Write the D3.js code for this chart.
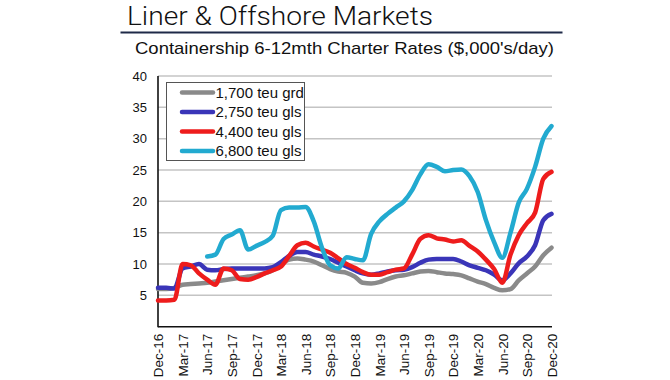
<!DOCTYPE html>
<html>
<head>
<meta charset="utf-8">
<script src="https://cdn.jsdelivr.net/npm/d3@7/dist/d3.min.js"></script>
<style>
  html, body { margin: 0; padding: 0; background: #fff; }
  svg { display: block; }
</style>
</head>
<body>
<svg id="chart" width="670" height="380"></svg>
<script>
// ---- Data (monthly, Dec-16 .. Dec-20) ----
const months = ["Dec-16","Jan-17","Feb-17","Mar-17","Apr-17","May-17","Jun-17","Jul-17","Aug-17","Sep-17","Oct-17","Nov-17",
  "Dec-17","Jan-18","Feb-18","Mar-18","Apr-18","May-18","Jun-18","Jul-18","Aug-18","Sep-18","Oct-18","Nov-18",
  "Dec-18","Jan-19","Feb-19","Mar-19","Apr-19","May-19","Jun-19","Jul-19","Aug-19","Sep-19","Oct-19","Nov-19",
  "Dec-19","Jan-20","Feb-20","Mar-20","Apr-20","May-20","Jun-20","Jul-20","Aug-20","Sep-20","Oct-20","Nov-20","Dec-20"];

const teu1700 = [6.0,6.0,6.2,6.7,6.8,6.9,7.0,7.2,7.4,7.6,7.8,8.0,
  8.2,8.5,9.0,10.0,10.7,10.9,10.7,10.4,9.8,9.2,8.8,8.6,
  8.0,7.0,6.9,7.1,7.6,8.0,8.2,8.5,8.8,8.9,8.7,8.5,
  8.4,8.2,7.7,7.2,6.8,6.2,5.8,6.0,7.4,8.5,9.6,11.4,12.6];

const teu2750 = [6.2,6.2,6.1,9.3,9.6,10.0,9.1,9.0,9.2,9.3,9.3,9.3,
  9.3,9.3,9.5,10.3,11.3,11.9,11.9,11.5,11.2,10.8,10.2,9.6,
  9.0,8.5,8.3,8.5,8.8,9.0,9.1,9.5,10.2,10.7,10.8,10.8,
  10.8,10.4,9.8,9.4,9.0,8.3,7.4,8.5,10.1,11.2,13.0,17.0,18.0];

const teu4400 = [4.2,4.2,4.3,10.0,9.8,8.5,7.5,6.7,9.3,9.0,7.6,7.5,
  7.9,8.5,9.0,9.6,11.3,13.0,13.4,12.8,12.3,11.8,10.9,10.0,
  9.4,8.7,8.3,8.3,8.7,9.1,9.3,11.5,14.0,14.6,14.1,13.9,
  13.6,13.8,12.9,12.0,10.7,9.2,7.0,11.5,14.6,16.5,18.2,23.6,24.7];

const teu6800 = [null,null,null,null,null,null,11.2,11.5,14.0,14.7,15.4,12.3,
  12.9,13.5,14.5,18.6,19.0,19.0,19.1,16.8,12.6,9.8,9.3,11.1,
  10.8,10.6,14.8,16.8,18.0,19.0,20.0,21.8,24.3,25.9,25.5,24.8,
  25.0,25.1,24.0,21.5,17.0,13.5,11.0,15.0,19.8,22.0,25.5,30.0,32.0];

const seriesNames = ["1,700 teu grd","2,750 teu gls","4,400 teu gls","6,800 teu gls"];
const seriesColors = ["#8a8a8a","#3a35b8","#ee1c1c","#22aad0"];
const seriesData = [teu1700, teu2750, teu4400, teu6800];

const yTicks = [5,10,15,20,25,30,35,40];
const xTickLabels = ["Dec-16","Mar-17","Jun-17","Sep-17","Dec-17","Mar-18","Jun-18","Sep-18","Dec-18",
  "Mar-19","Jun-19","Sep-19","Dec-19","Mar-20","Jun-20","Sep-20","Dec-20"];

const titleText = "Liner & Offshore Markets";
const subtitleText = "Containership 6-12mth Charter Rates ($,000's/day)";

// ---- Layout ----
const svg = d3.select("#chart");
const plot = { left: 158, right: 551.5, top: 76, bottom: 326.7 };

const x = d3.scalePoint().domain(months).range([plot.left, plot.right]);
const y = d3.scaleLinear().domain([0, 40]).range([plot.bottom, plot.top]);

// Title
svg.append("text")
  .attr("x", 127).attr("y", 24.5)
  .attr("font-family", "Roboto, 'Liberation Sans', Arial, sans-serif")
  .attr("font-weight", 300)
  .attr("font-size", 26)
  .attr("fill", "#111")
  .attr("textLength", 306).attr("lengthAdjust", "spacingAndGlyphs")
  .text(titleText);

svg.append("line")
  .attr("x1", 120.5).attr("x2", 562.5).attr("y1", 32.5).attr("y2", 32.5)
  .attr("stroke", "#1f2a48").attr("stroke-width", 2);

svg.append("text")
  .attr("x", 135).attr("y", 54)
  .attr("font-family", "'Liberation Sans', Arial, Helvetica, sans-serif")
  .attr("font-size", 17)
  .attr("fill", "#111")
  .attr("textLength", 419).attr("lengthAdjust", "spacingAndGlyphs")
  .text(subtitleText);

// Grid
svg.append("g")
  .selectAll("line")
  .data(yTicks)
  .join("line")
  .attr("x1", plot.left).attr("x2", plot.right + 0.5)
  .attr("y1", d => y(d)).attr("y2", d => y(d))
  .attr("stroke", "#c4c4c4").attr("stroke-width", 1.5);

// Y axis
const yAxis = d3.axisLeft(y).tickValues(yTicks).tickSize(0).tickPadding(11);
const gy = svg.append("g").attr("transform", `translate(${plot.left},0)`).call(yAxis);
gy.select(".domain").remove();
gy.selectAll("text")
  .attr("font-family", "'Liberation Sans', Arial, sans-serif")
  .attr("font-size", 13).attr("fill", "#111");

svg.append("line")
  .attr("x1", plot.left).attr("x2", plot.left)
  .attr("y1", plot.top).attr("y2", plot.bottom + 0.5)
  .attr("stroke", "#111").attr("stroke-width", 1.6);

// X axis
const xAxis = d3.axisBottom(x).tickValues(xTickLabels).tickSize(0).tickPadding(0);
const gx = svg.append("g").attr("transform", `translate(0,${plot.bottom})`).call(xAxis);
gx.select(".domain").remove();
gx.selectAll("text")
  .attr("font-family", "'Liberation Sans', Arial, sans-serif")
  .attr("font-size", 13.5).attr("fill", "#111")
  .attr("transform", "rotate(-90)")
  .attr("text-anchor", "end")
  .attr("x", -7).attr("y", 0).attr("dy", "0.35em");

svg.append("line")
  .attr("x1", plot.left).attr("x2", plot.right + 0.5)
  .attr("y1", plot.bottom).attr("y2", plot.bottom)
  .attr("stroke", "#111").attr("stroke-width", 1.6);

// Lines
const line = d3.line()
  .defined(d => d != null)
  .x((d, i) => x(months[i]))
  .y(d => y(d))
  .curve(d3.curveMonotoneX);

svg.append("g")
  .selectAll("path")
  .data(seriesData)
  .join("path")
  .attr("d", d => line(d))
  .attr("fill", "none")
  .attr("stroke", (d, i) => seriesColors[i])
  .attr("stroke-width", 4.5)
  .attr("stroke-linejoin", "round")
  .attr("stroke-linecap", "round");

// Legend
const lg = svg.append("g");
lg.append("rect")
  .attr("x", 166.5).attr("y", 82.5).attr("width", 138).attr("height", 78)
  .attr("fill", "#fff").attr("stroke", "#555").attr("stroke-width", 1);

const rowY = [92.5, 112, 131.5, 151];
const items = lg.selectAll("g.item")
  .data(seriesNames)
  .join("g").attr("class", "item")
  .attr("transform", (d, i) => `translate(0,${rowY[i]})`);
items.append("line")
  .attr("x1", 182).attr("x2", 213).attr("y1", 0).attr("y2", 0)
  .attr("stroke", (d, i) => seriesColors[i])
  .attr("stroke-width", 4.5).attr("stroke-linecap", "round");
items.append("text")
  .attr("x", 215.5).attr("y", 0).attr("dy", "0.35em")
  .attr("font-family", "'Liberation Sans', Arial, sans-serif")
  .attr("font-size", 15).attr("fill", "#111")
  .text(d => d);
</script>
</body>
</html>
